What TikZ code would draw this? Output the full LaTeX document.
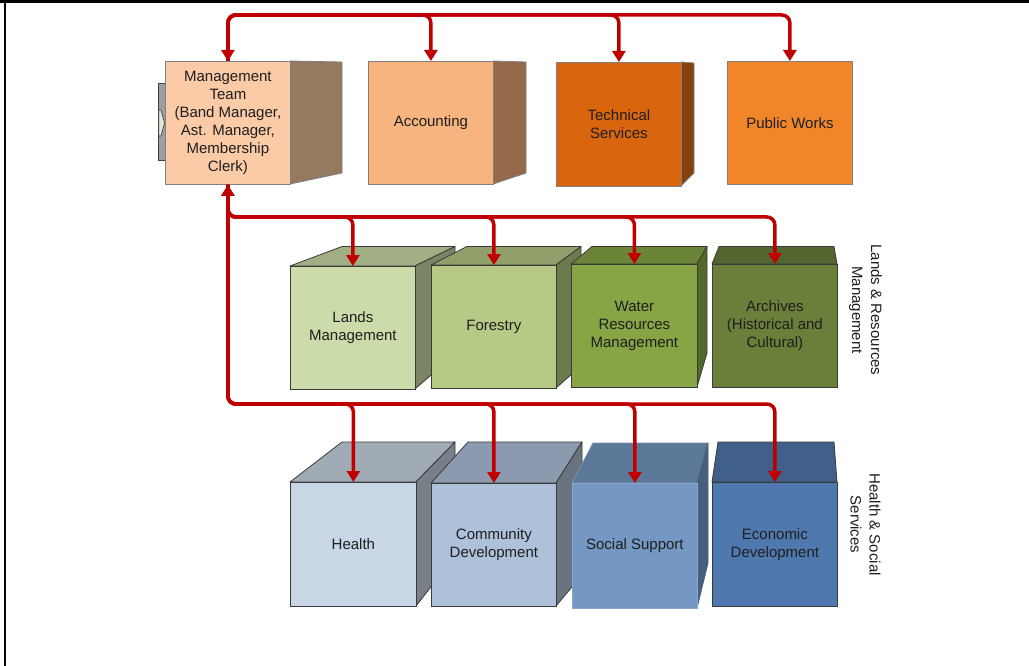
\documentclass[tikz,border=0pt]{standalone}
\usepackage{fontspec}
\setmainfont{Liberation Sans}
\usetikzlibrary{arrows.meta}
\definecolor{arrowred}{HTML}{C00000}
\definecolor{textc}{HTML}{1E1E1E}
\definecolor{edgeT}{HTML}{808080}
\definecolor{edgeD}{HTML}{3A3A3A}
% top row
\definecolor{mgF}{HTML}{FACBA6}\definecolor{mgS}{HTML}{957A62}
\definecolor{acF}{HTML}{F8B47E}\definecolor{acS}{HTML}{946A4A}
\definecolor{tsF}{HTML}{D9660E}\definecolor{tsS}{HTML}{85420C}
\definecolor{pwF}{HTML}{F0852A}
% middle row
\definecolor{lmF}{HTML}{CCDBAA}\definecolor{lmT}{HTML}{A2AE84}\definecolor{lmS}{HTML}{7B8566}
\definecolor{foF}{HTML}{B6CA86}\definecolor{foT}{HTML}{919F6B}\definecolor{foS}{HTML}{6C7A4E}
\definecolor{wrF}{HTML}{87A545}\definecolor{wrT}{HTML}{6B8437}\definecolor{wrS}{HTML}{54682A}
\definecolor{arF}{HTML}{6A7F3A}\definecolor{arT}{HTML}{556530}
% bottom row
\definecolor{hlF}{HTML}{C9D6E6}\definecolor{hlT}{HTML}{A1ABB6}\definecolor{hlS}{HTML}{7A8089}
\definecolor{cdF}{HTML}{AEC1DB}\definecolor{cdT}{HTML}{8B9AAF}\definecolor{cdS}{HTML}{6A7480}
\definecolor{ssF}{HTML}{7597C3}\definecolor{ssT}{HTML}{5C7899}\definecolor{ssS}{HTML}{475E7C}
\definecolor{edF}{HTML}{4F79AE}\definecolor{edT}{HTML}{405F89}
\tikzset{
  face/.style={line width=0.8pt, line join=round},
  frontbox/.style={rectangle, inner sep=0pt, anchor=north west, align=center,
    text=textc, font=\fontsize{15}{18}\selectfont, line width=0.8pt,
    minimum width=125pt},
  conn/.style={draw=arrowred, line width=3.5pt, rounded corners=8pt,
    -{Triangle[width=13pt,length=11pt]}},
  grouplabel/.style={rotate=-90, align=center, text=textc,
    font=\fontsize{15}{19}\selectfont},
}
\begin{document}
\begin{tikzpicture}[x=1pt,y=-1pt]
\useasboundingbox (0,0) rectangle (1029,666);
\fill[white] (0,0) rectangle (1029,666);
% page rules
\fill[black] (0,0) rectangle (1029,2.7);
\fill[black] (4,0) rectangle (6.3,666);

% ---------- top row ----------
% object behind management box
\filldraw[fill=gray!75, draw=gray!50!black, line width=0.6pt] (158.7,83) rectangle (166,160);
\filldraw[fill={rgb,255:red,226;green,230;blue,210}, draw=gray!40!black, line width=0.6pt]
  (158.7,110) -- (161,110) -- (164.5,123) -- (161,136) -- (158.7,136) -- cycle;
% management
\filldraw[face, fill=mgS, draw=edgeT] (290,61) -- (342,62) -- (342,173) -- (290,184) -- cycle;
\node[frontbox, fill=mgF, draw=edgeT, minimum height=123pt] (mgmt) at (165,61)
  {Management\\Team\\(Band Manager,\\Ast. Manager,\\Membership\\Clerk)};
% accounting
\filldraw[face, fill=acS, draw=edgeT] (493,61) -- (526,62) -- (526,173) -- (493,184) -- cycle;
\node[frontbox, fill=acF, draw=edgeT, minimum height=123pt] (acc) at (368,61) {Accounting};
% technical services
\filldraw[face, fill=tsS, draw=edgeT] (681,62) -- (694,63) -- (694,173) -- (681,186) -- cycle;
\node[frontbox, fill=tsF, draw=edgeT, minimum height=124pt] (tech) at (556,62) {Technical\\Services};
% public works
\node[frontbox, fill=pwF, draw=edgeT, minimum height=123pt] (pw) at (727,61) {Public Works};

% ---------- middle row ----------
\filldraw[face, fill=lmT, draw=edgeD] (290,266) -- (415,266) -- (455,246.5) -- (342,246.5) -- cycle;
\filldraw[face, fill=lmS, draw=edgeD] (415,266) -- (455,246.5) -- (455,354) -- (415,389) -- cycle;
\node[frontbox, fill=lmF, draw=edgeD, minimum height=123pt] (lands) at (290,266) {Lands\\Management};

\filldraw[face, fill=foT, draw=edgeD] (431,265) -- (556,265) -- (581,246.5) -- (467,246.5) -- cycle;
\filldraw[face, fill=foS, draw=edgeD] (556,265) -- (581,246.5) -- (581,366) -- (556,388) -- cycle;
\node[frontbox, fill=foF, draw=edgeD, minimum height=123pt] (forest) at (431,265) {Forestry};

\filldraw[face, fill=wrT, draw=edgeD] (571,264) -- (697,264) -- (707,246.5) -- (592,246.5) -- cycle;
\filldraw[face, fill=wrS, draw=edgeD] (697,264) -- (707,246.5) -- (707,353) -- (697,387) -- cycle;
\node[frontbox, fill=wrF, draw=edgeD, minimum width=126pt, minimum height=123pt] (water) at (571,264)
  {Water\\Resources\\Management};

\filldraw[face, fill=arT, draw=edgeD] (712,264) -- (837,264) -- (834,246.5) -- (719,246.5) -- cycle;
\node[frontbox, fill=arF, draw=edgeD, minimum height=123pt] (arch) at (712,264)
  {Archives\\(Historical and\\Cultural)};

\node[grouplabel] (lrm) at (865.5,310) {Lands \& Resources\\Management};

% ---------- bottom row ----------
\filldraw[face, fill=hlT, draw=edgeD] (290,482) -- (416,482) -- (455,442) -- (342,442) -- cycle;
\filldraw[face, fill=hlS, draw=edgeD] (416,482) -- (455,442) -- (455,556) -- (416,606) -- cycle;
\node[frontbox, fill=hlF, draw=edgeD, minimum width=126pt, minimum height=124pt] (health) at (290,482) {Health};

\filldraw[face, fill=cdT, draw=edgeD] (431,483) -- (556,483) -- (582,442) -- (468,442) -- cycle;
\filldraw[face, fill=cdS, draw=edgeD] (556,483) -- (582,442) -- (582,575) -- (556,606) -- cycle;
\node[frontbox, fill=cdF, draw=edgeD, minimum height=123pt] (comm) at (431,483) {Community\\Development};

\filldraw[face, fill=ssT, draw=ssT!80!white] (572,483) -- (697,483) -- (708,443) -- (593,443) -- cycle;
\filldraw[face, fill=ssS, draw=ssS] (697,483) -- (708,443) -- (708,563) -- (697,608) -- cycle;
\node[frontbox, fill=ssF, draw=ssF!85!white, minimum height=125pt] (social) at (572,483) {Social Support};

\filldraw[face, fill=edT, draw=edgeD] (712,482) -- (837,482) -- (834,442) -- (718,442) -- cycle;
\node[frontbox, fill=edF, draw=edgeD, minimum height=124pt] (econ) at (712,482) {Economic\\Development};

\node[grouplabel] (hss) at (865.5,524.5) {Health \& Social\\Services};

% ---------- connectors ----------
\coordinate (topbus) at (0,15);
\coordinate (midbus) at (0,217);
\coordinate (botbus) at (0,404);

\draw[conn] (acc.north |- topbus) -| (mgmt.north);
\draw[conn] (mgmt.north) |- (acc.north |- topbus) -- (acc.north);
\draw[conn] (mgmt.north) |- (tech.north |- topbus) -- (tech.north);
\draw[conn] (mgmt.north) |- (pw.north |- topbus) -- (pw.north);

\draw[conn] (mgmt.south) |- (lands.north |- midbus) -- (lands.north);
\draw[conn] (mgmt.south) |- (forest.north |- midbus) -- (forest.north);
\draw[conn] (mgmt.south) |- (water.north |- midbus) -- (water.north);
\draw[conn] (mgmt.south) |- (arch.north |- midbus) -- (arch.north);

\draw[conn] (mgmt.south) |- (health.north |- botbus) -- (health.north);
\draw[conn] (mgmt.south) |- (comm.north |- botbus) -- (comm.north);
\draw[conn] (mgmt.south) |- (social.north |- botbus) -- (social.north);
\draw[conn] (mgmt.south) |- (econ.north |- botbus) -- (econ.north);

\draw[conn] (mgmt.south |- midbus) -- (mgmt.south);
\end{tikzpicture}
\end{document}
